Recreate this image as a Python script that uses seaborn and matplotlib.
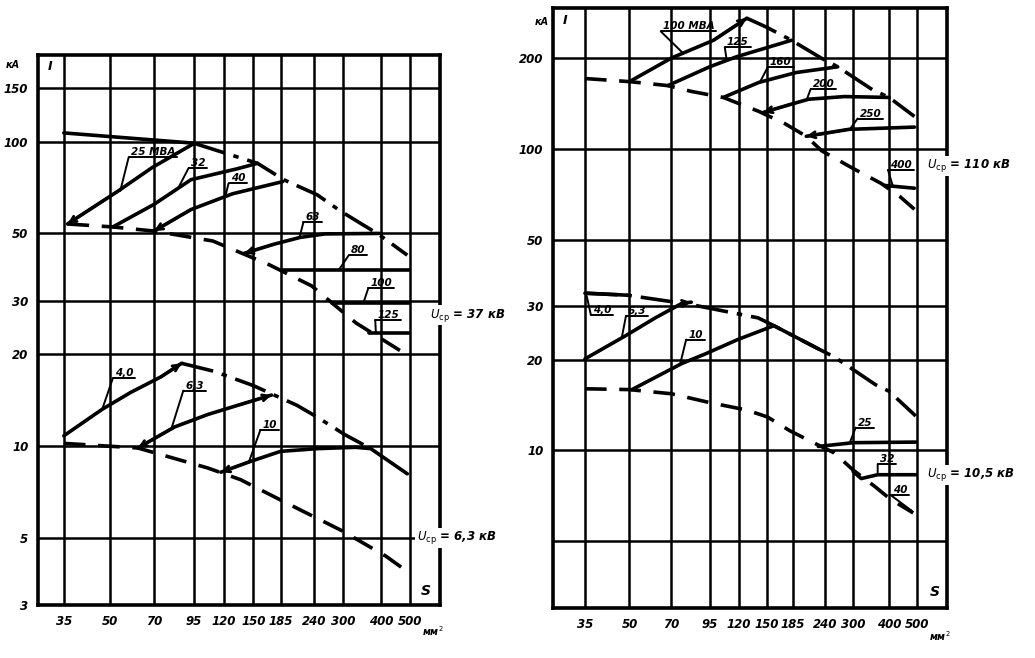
import matplotlib
matplotlib.use('Agg')
import matplotlib.pyplot as plt
from matplotlib.ticker import NullLocator, NullFormatter
import pandas as pd
import seaborn as sns

# сечения кабеля, мм2 (вертикальная сетка обоих графиков)
sections = [35, 50, 70, 95, 120, 150, 185, 240, 300, 400, 500]
left_yticks = [3, 5, 10, 20, 30, 50, 100, 150]
right_yticks = [5, 10, 20, 30, 50, 100, 200]
right_ylabels = ['', '10', '20', '30', '50', '100', '200']

# ---------- левый график, Uср = 37 кВ ----------
env37_S = [35, 95, 155, 190, 245, 295, 395, 490]
env37_I = [107, 99, 85, 75, 67, 59, 49.5, 42.4]
low37_S = [36, 51, 70, 110, 170, 235, 330, 490]
low37_I = [53.7, 52.5, 50.9, 47.2, 39.4, 33.6, 25.4, 19.9]
t25_S = [36, 53, 69, 95]
t25_I = [53.7, 68.8, 82.3, 98.7]
t32_S = [51, 70, 93, 133, 155]
t32_I = [52.5, 62.3, 75.1, 81.6, 85]
t40_S = [70, 93, 128, 188]
t40_I = [50.9, 59.9, 67.5, 74]
t63_S = [140, 175, 215, 260, 395]
t63_I = [43, 46, 48.5, 49.8, 50]
t80_S = [185, 495]
t80_I = [38, 38]
t100_S = [275, 495]
t100_I = [29.6, 29.6]
t125_S = [365, 495]
t125_I = [23.5, 23.5]

# ---------- левый график, Uср = 6,3 кВ ----------
env63_S = [86.5, 111, 150, 210, 245, 303, 370]
env63_I = [18.7, 17.6, 15.8, 13.6, 12.45, 10.9, 9.8]
low63_S = [35, 61.8, 106, 136, 197, 296, 416, 500]
low63_I = [10.2, 9.85, 8.46, 7.75, 6.44, 5.27, 4.34, 3.81]
t4_S = [35, 47, 58.5, 74, 86.5]
t4_I = [10.8, 13.2, 15.0, 16.9, 18.7]
t6_S = [61.8, 82, 106, 133, 172.6]
t6_I = [9.85, 11.55, 12.7, 13.6, 14.7]
t10_S = [117, 147, 185, 245, 330, 370, 490]
t10_I = [8.2, 8.9, 9.6, 9.8, 9.9, 9.8, 8.1]

# ---------- правый график, Uср = 110 кВ ----------
env110_S = [128, 150, 183, 232, 265, 350, 400, 490]
env110_I = [271, 253, 229, 200, 187, 157, 148, 128]
low110_S = [35, 50, 68, 82, 106, 141, 174, 206, 233, 300, 375, 435, 490]
low110_I = [171, 167, 162, 155, 148, 133, 121, 110, 98.5, 86, 76.8, 69.6, 63]
r100_S = [50, 70, 98, 128]
r100_I = [167, 200, 229, 271]
r125_S = [68, 95, 118, 183]
r125_I = [162, 187, 202, 229]
r160_S = [106, 141, 190, 265]
r160_I = [148, 166, 179, 187]
r200_S = [146, 180, 210, 280, 400]
r200_I = [132, 140, 146, 149, 148]
r250_S = [206, 290, 490]
r250_I = [110, 116, 118]
r400_S = [385, 490]
r400_I = [75.6, 74]

# ---------- правый график, Uср = 10,5 кВ ----------
env105_S = [35, 49, 81, 140, 159, 227, 258, 359, 400, 495]
env105_I = [33.2, 32.7, 30.5, 27.5, 25.9, 21.7, 20.4, 16.5, 15.7, 13.0]
low105_S = [35, 50, 70, 95, 128, 151, 181, 210, 258, 300, 356, 403, 485]
low105_I = [16, 15.9, 15.4, 14.4, 13.6, 12.9, 11.6, 10.8, 9.8, 8.6, 7.6, 6.9, 6.2]
s4_S = [35, 49]
s4_I = [33.2, 32.7]
s6_S = [35, 48.5, 61.5, 76, 82]
s6_I = [20.1, 24, 27.5, 30.7, 31]
s10_S = [51, 76, 92, 119, 159, 227]
s10_I = [15.9, 19.4, 20.9, 23.3, 25.9, 21.7]
s25_S = [227, 300, 495]
s25_I = [10.3, 10.6, 10.65]
s32_S = [300, 320, 365, 495]
s32_I = [8.5, 8.06, 8.3, 8.3]

LW_GRID = 1.8
LW_CURVE = 2.6
DASH = (0, (6, 3.5))
DASHDOT = (0, (9, 2.5, 1.5, 2.5))
FONT = dict(fontstyle='italic', fontweight='bold', color='black')

sns.set_style('white')
plt.rcParams['font.family'] = ['DejaVu Sans']
plt.rcParams['text.color'] = 'black'
plt.rcParams['xtick.color'] = 'black'
plt.rcParams['ytick.color'] = 'black'

fig = plt.figure(figsize=(10.35, 6.58), dpi=100)
axL = fig.add_axes([38 / 1035, 1 - 605 / 658, 402 / 1035, 550 / 658])
axR = fig.add_axes([553 / 1035, 1 - 608 / 658, 394 / 1035, 600 / 658])


def setup(ax, xlim, ylim, yticks, ylabels):
    ax.set_xscale('log')
    ax.set_yscale('log')
    ax.set_xlim(*xlim)
    ax.set_ylim(*ylim)
    ax.set_xticks(sections)
    ax.set_xticklabels([str(s) for s in sections])
    ax.set_yticks(yticks)
    ax.set_yticklabels(ylabels)
    for axis in (ax.xaxis, ax.yaxis):
        axis.set_minor_locator(NullLocator())
        axis.set_minor_formatter(NullFormatter())
    ax.set_axisbelow(True)
    ax.grid(True, which='major', color='black', lw=LW_GRID)
    ax.tick_params(length=0, labelsize=8.5, pad=7, colors='black')
    for lbl in ax.get_xticklabels() + ax.get_yticklabels():
        lbl.set_fontstyle('italic')
        lbl.set_fontweight('bold')
    for sp in ax.spines.values():
        sp.set_linewidth(2.6)
        sp.set_color('black')


def curve(ax, S, I, ls='-'):
    df = pd.DataFrame({'S': S, 'I': I})
    sns.lineplot(data=df, x='S', y='I', ax=ax, color='black', lw=LW_CURVE,
                 linestyle=ls, sort=False, estimator=None, legend=False)


def arrow(ax, S, I, at='start'):
    if at == 'start':
        tip, tail = (S[0], I[0]), (S[1], I[1])
    else:
        tip, tail = (S[-1], I[-1]), (S[-2], I[-2])
    ax.annotate('', xy=tip, xytext=tail,
                arrowprops=dict(arrowstyle='->,head_length=0.45,head_width=0.22',
                                lw=2.0, color='black', shrinkA=0, shrinkB=0))


setup(axL, (28.7, 630), (3, 193), left_yticks, [str(v) for v in left_yticks])
setup(axR, (27.1, 636), (3, 293), right_yticks, right_ylabels)

# левый график
curve(axL, env37_S[:2], env37_I[:2])
curve(axL, env37_S[1:], env37_I[1:], DASHDOT)
curve(axL, low37_S, low37_I, DASH)
for S, I in [(t25_S, t25_I), (t32_S, t32_I), (t40_S, t40_I), (t63_S, t63_I),
             (t80_S, t80_I), (t100_S, t100_I), (t125_S, t125_I)]:
    curve(axL, S, I)
for S, I in [(t25_S, t25_I), (t40_S, t40_I), (t63_S, t63_I)]:
    arrow(axL, S, I)

curve(axL, env63_S, env63_I, DASHDOT)
curve(axL, low63_S, low63_I, DASH)
for S, I in [(t4_S, t4_I), (t6_S, t6_I), (t10_S, t10_I)]:
    curve(axL, S, I)
arrow(axL, t4_S, t4_I, 'end')
arrow(axL, t6_S, t6_I)
arrow(axL, t6_S, t6_I, 'end')
arrow(axL, t10_S, t10_I)

# правый график
curve(axR, env110_S, env110_I, DASHDOT)
curve(axR, low110_S, low110_I, DASH)
for S, I in [(r100_S, r100_I), (r125_S, r125_I), (r160_S, r160_I),
             (r200_S, r200_I), (r250_S, r250_I), (r400_S, r400_I)]:
    curve(axR, S, I)
arrow(axR, r100_S, r100_I, 'end')
arrow(axR, r200_S, r200_I)
arrow(axR, r250_S, r250_I)

curve(axR, env105_S, env105_I, DASHDOT)
curve(axR, low105_S, low105_I, DASH)
for S, I in [(s4_S, s4_I), (s6_S, s6_I), (s10_S, s10_I), (s25_S, s25_I), (s32_S, s32_I)]:
    curve(axR, S, I)
arrow(axR, s6_S, s6_I, 'end')

for ax in (axL, axR):
    ax.set_xlabel('')
    ax.set_ylabel('')

# подписи мощностей трансформаторов: текст, точка текста, точка на кривой
labels_left = [
    ('25 МВА', (58.5, 89), (54, 69)),
    ('32', (92.7, 82), (84, 70)),
    ('40', (126, 73), (121, 66)),
    ('63', (224, 54.4), (214, 48.5)),
    ('80', (317, 42.3), (290, 38)),
    ('100', (369, 33.1), (350, 29.6)),
    ('125', (389, 25.9), (385, 23.5)),
    ('4,0', (51.8, 16.7), (47, 13.2)),
    ('6,3', (89, 15.2), (80, 11.4)),
    ('10', (161, 11.3), (145, 8.85)),
]
labels_right = [
    ('100 МВА', (65.3, 245), (77, 207)),
    ('125', (109, 217), (109, 196)),
    ('160', (154, 187), (142, 166)),
    ('200', (217, 158), (207, 146)),
    ('250', (316, 126), (292, 116)),
    ('400', (403, 85), (412, 75.3)),
    ('4,0', (37.3, 28.1), (35.5, 32.5)),
    ('6,3', (49.4, 27.9), (47, 23.6)),
    ('10', (80, 23.3), (75, 19.3)),
    ('25', (311, 11.9), (292, 10.6)),
    ('32', (371, 9.0), (365, 8.3)),
    ('40', (412, 7.1), (480, 6.3)),
]

placed = []
for ax, labels in [(axL, labels_left), (axR, labels_right)]:
    for text, pos, target in labels:
        t = ax.text(*pos, text, fontsize=7.5, ha='left', va='bottom', zorder=6, **FONT)
        placed.append((ax, t, target))

# напряжения, оси
box = dict(facecolor='white', edgecolor='none', pad=1.2)
axL.text(0.975, 0.527, r'$U_{\mathrm{ср}}$ = 37 кВ', transform=axL.transAxes, fontsize=8.5,
         ha='left', va='center', bbox=box, zorder=7, clip_on=False, **FONT)
axL.text(0.943, 0.122, r'$U_{\mathrm{ср}}$ = 6,3 кВ', transform=axL.transAxes, fontsize=8.5,
         ha='left', va='center', bbox=box, zorder=7, clip_on=False, **FONT)
axR.text(0.949, 0.737, r'$U_{\mathrm{ср}}$ = 110 кВ', transform=axR.transAxes, fontsize=8.5,
         ha='left', va='center', bbox=box, zorder=7, clip_on=False, **FONT)
axR.text(0.949, 0.222, r'$U_{\mathrm{ср}}$ = 10,5 кВ', transform=axR.transAxes, fontsize=8.5,
         ha='left', va='center', bbox=box, zorder=7, clip_on=False, **FONT)

for ax, sx, sy in [(axL, 0.953, 0.012), (axR, 0.957, 0.015)]:
    ax.text(sx, sy, 'S', transform=ax.transAxes, fontsize=10, ha='left', va='bottom', **FONT)
    ax.text(0.955, -0.035, 'мм$^2$', transform=ax.transAxes, fontsize=7, ha='left',
            va='top', clip_on=False, **FONT)
    ax.text(0.025, 0.99, 'I', transform=ax.transAxes, fontsize=9, ha='left', va='top', **FONT)
axL.text(-0.045, 0.99, 'кА', transform=axL.transAxes, fontsize=7, ha='right', va='top', **FONT)
axR.text(-0.01, 0.985, 'кА', transform=axR.transAxes, fontsize=7, ha='right', va='top', **FONT)

# подчёркивания и выноски
fig.canvas.draw()
renderer = fig.canvas.get_renderer()
for ax, t, target in placed:
    bb = t.get_window_extent(renderer)
    inv = ax.transData.inverted()
    (x0, y0), (x1, _) = inv.transform([(bb.x0 - 2, bb.y0), (bb.x1 + 2, bb.y0)])
    ax.plot([x0, x1], [y0, y0], color='black', lw=1.4, zorder=6)
    ax.annotate('', xy=target, xytext=(x0, y0),
                arrowprops=dict(arrowstyle='-', lw=1.4, color='black', shrinkA=0, shrinkB=0))

fig.savefig('out.png', dpi=100, facecolor='white')
